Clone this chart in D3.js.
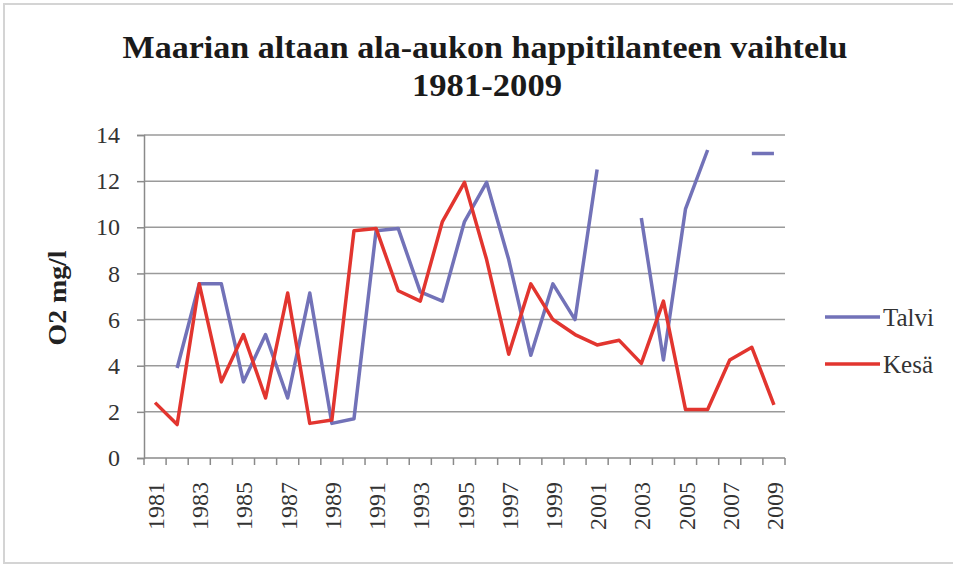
<!DOCTYPE html>
<html>
<head>
<meta charset="utf-8">
<script src="https://cdn.jsdelivr.net/npm/d3@7"></script>
<style>
  body { margin: 0; background: #fff; }
  text { font-family: "Liberation Serif", "DejaVu Serif", serif; }
</style>
</head>
<body>
<script>
var width = 953, height = 570;

// data
var years = d3.range(1981, 2010);
var talvi = [null, 3.9, 7.55, 7.55, 3.3, 5.35, 2.6, 7.15, 1.5, 1.7,
             9.85, 9.95, 7.2, 6.8, 10.25, 11.95, 8.6, 4.45, 7.55, 6.0,
             12.5, null, 10.4, 4.25, 10.8, 13.35, null, 13.2, 13.2];
var kesa = [2.4, 1.45, 7.55, 3.3, 5.35, 2.6, 7.15, 1.5, 1.65, 9.85,
            9.95, 7.25, 6.8, 10.25, 11.95, 8.6, 4.5, 7.55, 6.0, 5.35,
            4.9, 5.1, 4.1, 6.8, 2.1, 2.1, 4.25, 4.8, 2.3];
var yTicks = [0, 2, 4, 6, 8, 10, 12, 14];
var xLabelYears = years.filter(function(y) { return (y - 1981) % 2 == 0; });
var seriesNames = ["Talvi", "Kesä"];
var seriesColors = ["#7272b8", "#e2352f"];

var svg = d3.select("body").append("svg")
  .attr("width", width)
  .attr("height", height);

// outer frame
svg.append("rect")
  .attr("x", 4).attr("y", 4)
  .attr("width", width + 10).attr("height", 559)
  .attr("fill", "#fff")
  .attr("stroke", "#d4d4d4")
  .attr("stroke-width", 2);

var plotLeft = 144, plotRight = 785, plotTop = 135, plotBottom = 458;

var x = d3.scaleBand().domain(years).range([plotLeft, plotRight]).paddingInner(0).paddingOuter(0);
var y = d3.scaleLinear().domain([0, 14]).range([plotBottom, plotTop]);

// gridlines
svg.append("g").selectAll("line")
  .data(yTicks.filter(function(d) { return d > 0; }))
  .enter().append("line")
  .attr("x1", plotLeft).attr("x2", plotRight)
  .attr("y1", function(d) { return y(d); })
  .attr("y2", function(d) { return y(d); })
  .attr("stroke", "#9a9a9a")
  .attr("stroke-width", 1.5);

// y axis
var yAxis = svg.append("g")
  .attr("transform", "translate(" + plotLeft + ",0)")
  .call(d3.axisLeft(y).tickValues(yTicks).tickSize(7).tickPadding(17));
yAxis.select(".domain").attr("stroke", "#8a8a8a").attr("stroke-width", 1.5);
yAxis.selectAll(".tick line").attr("stroke", "#8a8a8a").attr("stroke-width", 1.5);
yAxis.selectAll(".tick text")
  .attr("font-family", "Liberation Serif")
  .attr("font-size", 24)
  .attr("fill", "#333");

// x axis (tick marks at band edges)
var xg = svg.append("g");
xg.append("line")
  .attr("x1", plotLeft).attr("x2", plotRight)
  .attr("y1", plotBottom).attr("y2", plotBottom)
  .attr("stroke", "#8a8a8a").attr("stroke-width", 1.5);
xg.selectAll("line.tk")
  .data(years.concat([2010]))
  .enter().append("line")
  .attr("class", "tk")
  .attr("x1", function(d) { return d == 2010 ? plotRight : x(d); })
  .attr("x2", function(d) { return d == 2010 ? plotRight : x(d); })
  .attr("y1", plotBottom).attr("y2", plotBottom + 7)
  .attr("stroke", "#8a8a8a").attr("stroke-width", 1.5);
xg.selectAll("text")
  .data(xLabelYears)
  .enter().append("text")
  .attr("transform", function(d) {
    return "translate(" + (x(d) + x.bandwidth() / 2 + 9) + "," + (plotBottom + 24) + ") rotate(-90)";
  })
  .attr("text-anchor", "end")
  .attr("font-size", 24)
  .attr("fill", "#333")
  .text(function(d) { return d; });

// lines
var line = d3.line()
  .defined(function(d) { return d != null; })
  .x(function(d, i) { return x(years[i]) + x.bandwidth() / 2; })
  .y(function(d) { return y(d); });

[talvi, kesa].forEach(function(s, i) {
  svg.append("path")
    .datum(s)
    .attr("d", line)
    .attr("fill", "none")
    .attr("stroke", seriesColors[i])
    .attr("stroke-width", 3.5)
    .attr("stroke-linejoin", "round");
});

// legend
var legend = svg.append("g");
seriesNames.forEach(function(n, i) {
  var ly = 317 + i * 47;
  legend.append("line")
    .attr("x1", 825).attr("x2", 880)
    .attr("y1", ly).attr("y2", ly)
    .attr("stroke", seriesColors[i])
    .attr("stroke-width", 3.5);
  legend.append("text")
    .attr("x", 883).attr("y", ly + 9)
    .attr("font-size", 25)
    .attr("fill", "#333")
    .text(n);
});

// y label
svg.append("text")
  .attr("transform", "translate(66,298) rotate(-90)")
  .attr("text-anchor", "middle")
  .attr("font-size", 25)
  .attr("font-weight", "bold")
  .attr("fill", "#222")
  .attr("textLength", 95)
  .attr("lengthAdjust", "spacingAndGlyphs")
  .text("O2 mg/l");

// title
svg.append("text")
  .attr("x", 485).attr("y", 58)
  .attr("text-anchor", "middle")
  .attr("font-size", 31)
  .attr("font-weight", "bold")
  .attr("fill", "#1a1a1a")
  .attr("textLength", 725)
  .attr("lengthAdjust", "spacingAndGlyphs")
  .text("Maarian altaan ala-aukon happitilanteen vaihtelu");
svg.append("text")
  .attr("x", 487).attr("y", 96)
  .attr("text-anchor", "middle")
  .attr("font-size", 31)
  .attr("font-weight", "bold")
  .attr("fill", "#1a1a1a")
  .attr("textLength", 150)
  .attr("lengthAdjust", "spacingAndGlyphs")
  .text("1981-2009");
</script>
</body>
</html>
